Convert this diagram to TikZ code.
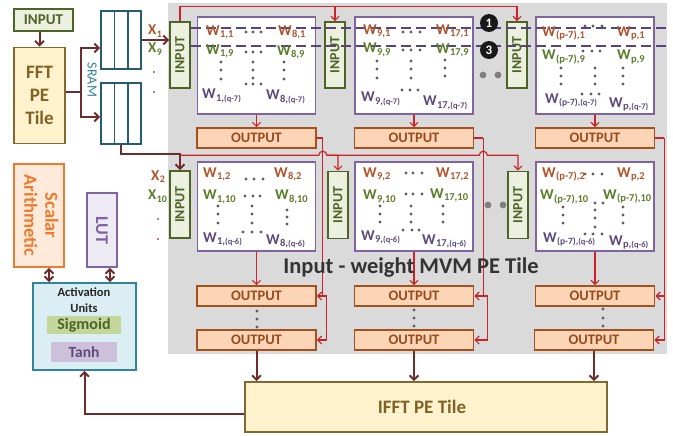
\documentclass[tikz,border=0pt]{standalone}
\usepackage{fontspec}
\setmainfont{Carlito}
\usepackage{graphicx}
\usetikzlibrary{arrows.meta}
\definecolor{cBrown}{HTML}{6E2C2C}
\definecolor{cRed}{HTML}{CC2229}
\definecolor{cBg}{HTML}{DADADA}
\definecolor{cInF}{HTML}{EBF1DE}
\definecolor{cInD}{HTML}{4F6228}
\definecolor{cOutF}{HTML}{FBD5B5}
\definecolor{cOutD}{HTML}{A4501F}
\definecolor{cOutT}{HTML}{9A4A1F}
\definecolor{cBlk}{HTML}{8064A2}
\definecolor{cWa}{HTML}{B0552B}
\definecolor{cWb}{HTML}{5E7D2B}
\definecolor{cWc}{HTML}{5C4A7D}
\definecolor{cFftF}{HTML}{FFF2CC}
\definecolor{cFftD}{HTML}{806A30}
\definecolor{cFftT}{HTML}{7F6326}
\definecolor{cSram}{HTML}{245E6E}
\definecolor{cSramT}{HTML}{31849B}
\definecolor{cScD}{HTML}{EE7A2E}
\definecolor{cScF}{HTML}{FDEADA}
\definecolor{cLutF}{HTML}{EEEAF4}
\definecolor{cLutT}{HTML}{7F64A2}
\definecolor{cActD}{HTML}{31849B}
\definecolor{cActF}{HTML}{DAEEF3}
\definecolor{cSig}{HTML}{C3D69B}
\definecolor{cTanh}{HTML}{CCC0DA}
\definecolor{cTanhT}{HTML}{5F497A}
\definecolor{cDot}{HTML}{5F5F5F}
\definecolor{cTitle}{HTML}{333333}
\definecolor{cDash}{HTML}{55457A}
\newcommand{\Wl}[1]{W\kern.3pt\raisebox{-2pt}{\fontsize{10.5}{10.5}\selectfont #1}}
\newcommand{\Wq}[2]{W\kern.3pt\raisebox{-2.5pt}{\fontsize{10.5}{10.5}\selectfont #1,\fontsize{8.5}{8.5}\selectfont #2}}
\newcommand{\Xl}[1]{X\kern.3pt\raisebox{-2.5pt}{\fontsize{10}{10}\selectfont #1}}
\tikzset{
  box/.style={rectangle, inner sep=0pt},
  inbox/.style={box, draw=cInD, fill=cInF, line width=1.6pt, text=cInD, font=\fontsize{14}{14}\selectfont\bfseries, minimum width=20pt, minimum height=66pt},
  outbox/.style={box, draw=cOutD, fill=cOutF, line width=1.6pt, text=cOutT, font=\fontsize{14.5}{14.5}\selectfont\bfseries, minimum width=119pt, minimum height=20pt},
  blk/.style={box, draw=cBlk, fill=white, line width=1.3pt, minimum width=118pt},
  sram/.style={box, draw=cSram, fill=white, line width=1.6pt, minimum width=40pt},
  sramln/.style={draw=cSram, line width=1.6pt},
  wl/.style={anchor=base west, inner sep=0pt, font=\fontsize{15}{15}\selectfont\bfseries},
  xl/.style={anchor=base west, inner sep=0pt, font=\fontsize{15}{15}\selectfont\bfseries},
  brn/.style={draw=cBrown, line width=2pt},
  brnA/.style={brn, -{Straight Barb[length=4.5pt,width=9pt]}},
  brnD/.style={brn, {Straight Barb[length=4.5pt,width=9pt]}-{Straight Barb[length=4.5pt,width=9pt]}},
  rd/.style={draw=cRed, line width=1.2pt},
  rdA/.style={rd, -{Straight Barb[length=4pt,width=8pt]}},
  pdash/.style={draw=cDash, line width=1.8pt, dash pattern=on 10pt off 5pt},
  numc/.style={circle, fill=black!90, text=white, inner sep=0pt, minimum size=18pt, font=\fontsize{13}{13}\selectfont\bfseries}
}
\begin{document}
\begin{tikzpicture}[x=1pt,y=-1pt]
\useasboundingbox (0,0) rectangle (673,436);
\fill[cBg] (168,3) rectangle (667,354);

% left column
\node[box, draw=cInD, fill=cInF, line width=1.6pt, text=cInD, font=\fontsize{15}{15}\selectfont\bfseries, minimum width=59pt, minimum height=22pt] (inp) at (43.5,20) {INPUT};
\node[box, draw=cFftD, fill=cFftF, line width=1.6pt, text=cFftT, font=\fontsize{19}{23}\selectfont\bfseries, align=center, minimum width=51pt, minimum height=96pt] (fft) at (39.5,95.5) {FFT\\PE\\Tile};
\node[sram, minimum height=58pt] (sramA) at (121,40) {};
\node[sram, minimum height=61pt] (sramB) at (121,113.5) {};
\foreach \s in {sramA,sramB}{
  \draw[sramln] ([xshift=-6.7pt]\s.north) -- ([xshift=-6.7pt]\s.south);
  \draw[sramln] ([xshift=6.7pt]\s.north) -- ([xshift=6.7pt]\s.south);
}
\node[text=cSramT, font=\fontsize{14}{14}\selectfont, inner sep=0pt] (sramlbl) at (92,80) {\rotatebox{-90}{SRAM}};

\node[box, draw=cScD, fill=cScF, line width=1.6pt, text=cScD, font=\fontsize{18.5}{21}\selectfont\bfseries, minimum width=50pt, minimum height=103pt] (scal) at (39,215.5) {\rotatebox{-90}{\begin{tabular}{@{}c@{}}Scalar\\Arithmetic\end{tabular}}};
\node[box, draw=cBlk, fill=cLutF, line width=1.6pt, text=cLutT, font=\fontsize{18}{18}\selectfont\bfseries, minimum width=30pt, minimum height=74pt] (lut) at (102,230) {\rotatebox{-90}{LUT}};
\node[box, draw=cActD, fill=cActF, line width=1.6pt, minimum width=103pt, minimum height=87pt] (act) at (84.5,326.5) {};
\node[align=center, font=\fontsize{12.5}{16}\selectfont\bfseries, text=black!85, inner sep=0pt] (actt) at (84,300) {Activation\\Units};
\node[box, fill=cSig, text=cInD, font=\fontsize{16}{16}\selectfont\bfseries, minimum width=74pt, minimum height=18pt] (sig) at (84,325) {Sigmoid};
\node[box, fill=cTanh, text=cTanhT, font=\fontsize{15.5}{15.5}\selectfont\bfseries, minimum width=66pt, minimum height=20pt] (tanh) at (84,352) {Tanh};

% INPUT boxes
\node[inbox] (in11) at (180,55) {\rotatebox{90}{INPUT}};
\node[inbox] (in12) at (335,55) {\rotatebox{90}{INPUT}};
\node[inbox] (in13) at (517,55) {\rotatebox{90}{INPUT}};
\node[inbox, minimum height=67pt] (in21) at (180,204.5) {\rotatebox{90}{INPUT}};
\node[inbox, minimum height=67pt] (in22) at (338,205) {\rotatebox{90}{INPUT}};
\node[inbox, minimum height=67pt] (in23) at (518,205) {\rotatebox{90}{INPUT}};

% weight blocks
\node[blk, minimum height=97pt] (b11) at (256.5,65.5) {};
\node[blk, minimum height=97pt] (b12) at (414,65.5) {};
\node[blk, minimum height=97pt] (b13) at (595,65.5) {};
\node[blk, minimum height=89pt] (b21) at (256.5,206.5) {};
\node[blk, minimum height=89pt] (b22) at (414,206.5) {};
\node[blk, minimum height=89pt] (b23) at (595,206.5) {};

% outputs
\node[outbox] (o11) at (256.5,138) {OUTPUT};
\node[outbox] (o12) at (414,138) {OUTPUT};
\node[outbox] (o13) at (595,138) {OUTPUT};
\node[outbox] (o31) at (256.5,296) {OUTPUT};
\node[outbox] (o32) at (414,296) {OUTPUT};
\node[outbox] (o33) at (595,296) {OUTPUT};
\node[outbox] (o41) at (256.5,340) {OUTPUT};
\node[outbox] (o42) at (414,340) {OUTPUT};
\node[outbox] (o43) at (594,340) {OUTPUT};

\node[box, draw=cFftD, fill=cFftF, line width=1.6pt, text=cFftT, font=\fontsize{19}{19}\selectfont\bfseries, minimum width=362pt, minimum height=50pt] (ifft) at (426,407) {\hspace*{-8pt}IFFT PE Tile\hspace*{0pt}};

% purple dashed lines
\draw[pdash] ([yshift=27pt]in11.east) -- ++(477,0);
\draw[pdash] ([yshift=9pt]in11.east) -- ++(477,0);
\node[numc] (n1) at (489,23) {1};
\node[numc] (n3) at (489,50) {3};

% big dots between columns
\foreach \x/\y in {483/75, 498/75, 488/205, 503/205} \fill[cDot!80] (\x,\y) circle (3.4);

% small dots in blocks
\foreach \x/\y in {246/32,253/32,261/32, 246/52,253/52,261/52, 221/62,221/70,221/79, 253/62,253/70,253/78, 246/84,253/84,261/84, 284/62,284/70,284/79,
  403/32,411/32,420/32, 403/50,411/50,420/50, 377/61,377/69,377/78, 411/61,411/69,411/78, 402/90,410/90,418/90, 445/60,445/68,445/76,
  585/26,593/26,602/26, 583/51,592/51,600/51, 561/68,561/76,561/84, 595/68,595/76,595/84, 582/94,591/94,599/94, 623/68,623/76,623/84,
  246/179,254/179,263/179, 245/196,253/196,260/196, 218/206,218/214,218/223, 252/206,252/214,252/223, 243/232,252/232,261/232, 287/210,287/217,287/224,
  406/173,413/173,422/173, 406/194,413/194,422/194, 380/206,380/214,380/222, 411/206,411/214,411/222, 403/230,412/230,419/230, 443/206,443/214,443/222,
  585/174,593/174,602/174, 595/203,603/203, 563/207,563/215,563/223, 595/210,595/218,595/227, 585/234,593/234,602/234, 623/207,623/215,623/223,
  257/311,257/319,257/327, 414/310,414/318,414/326, 603/309,603/318,603/326}
  \fill[cDot] (\x,\y) circle (1.6);
\foreach \x/\y in {154/72,154/92,158/219,158/239} \fill[cWa] (\x,\y) circle (1.2);

% weight labels
\node[wl, text=cWa] (w111) at (206,36) {\Wl{1,1}};
\node[wl, text=cWa] (w181) at (278,36) {\Wl{8,1}};
\node[wl, text=cWb] (w119) at (206,55) {\Wl{1,9}};
\node[wl, text=cWb] (w189) at (277,56) {\Wl{8,9}};
\node[wl, text=cWc] (w11q) at (202,99) {\Wq{1}{(q-7)}};
\node[wl, text=cWc] (w18q) at (266,100) {\Wq{8}{(q-7)}};

\node[wl, text=cWa] (w191) at (363,35) {\Wl{9,1}};
\node[wl, text=cWa] (w1171) at (436,35) {\Wl{17,1}};
\node[wl, text=cWb] (w199) at (363,53) {\Wl{9,9}};
\node[wl, text=cWb] (w1179) at (436,54) {\Wl{17,9}};
\node[wl, text=cWc] (w19q) at (361,102) {\Wq{9}{(q-7)}};
\node[wl, text=cWc] (w117q) at (423,106) {\Wq{17}{(q-7)}};

\node[wl, text=cWa] (w1p71) at (542,37) {\Wl{(p-7),1}};
\node[wl, text=cWa] (w1p1) at (617,37) {\Wl{p,1}};
\node[wl, text=cWb] (w1p79) at (542,60) {\Wl{(p-7),9}};
\node[wl, text=cWb] (w1p9) at (617,60) {\Wl{p,9}};
\node[wl, text=cWc] (w1p7q) at (545,103) {\Wq{\fontsize{9.5}{9.5}\selectfont(p-7)}{(q-7)}};
\node[wl, text=cWc] (w1pq) at (609,107) {\Wq{p}{(q-7)}};

\node[wl, text=cWa] (w212) at (203,177) {\Wl{1,2}};
\node[wl, text=cWa] (w282) at (274,177) {\Wl{8,2}};
\node[wl, text=cWb] (w2110) at (203,200) {\Wl{1,10}};
\node[wl, text=cWb] (w2810) at (275,200) {\Wl{8,10}};
\node[wl, text=cWc] (w21q) at (203,242) {\Wq{1}{(q-6)}};
\node[wl, text=cWc] (w28q) at (266,244) {\Wq{8}{(q-6)}};

\node[wl, text=cWa] (w292) at (363,177) {\Wl{9,2}};
\node[wl, text=cWa] (w2172) at (436,177) {\Wl{17,2}};
\node[wl, text=cWb] (w2910) at (363,200) {\Wl{9,10}};
\node[wl, text=cWb] (w21710) at (430,198) {\Wl{17,10}};
\node[wl, text=cWc] (w29q) at (361,240) {\Wq{9}{(q-6)}};
\node[wl, text=cWc] (w217q) at (422,244) {\Wq{17}{(q-6)}};

\node[wl, text=cWa] (w2p72) at (542,177) {\Wl{(p-7),2}};
\node[wl, text=cWa] (w2p2) at (617,177) {\Wl{p,2}};
\node[wl, text=cWb] (w2p710) at (540,200) {\Wl{(p-7),10}};
\node[wl, text=cWb] (w2p710b) at (603,199) {\Wl{(p-7),10}};
\node[wl, text=cWc] (w2p7q) at (543,242) {\Wq{\fontsize{9.5}{9.5}\selectfont(p-7)}{(q-6)}};
\node[wl, text=cWc] (w2pq) at (609,245) {\Wq{p}{(q-6)}};

% X labels
\node[xl, text=cWa] (x1) at (148,35) {\Xl{1}};
\node[xl, text=cWb] (x9) at (148,53) {\Xl{9}};
\node[xl, text=cWa] (x2) at (151,180) {\Xl{2}};
\node[xl, text=cWb] (x10) at (148,200) {\Xl{10}};

% brown connectors
\coordinate (split) at (81,92);
\draw[brnA] (inp.south -| fft.north) -- (fft.north);
\draw[brn] (fft.east |- split) -- (split);
\draw[brnA] (split) |- ([yshift=-8pt]sramA.west);
\draw[brnA] (split) |- ([yshift=-3.5pt]sramB.west);
\draw[brnA] (sramA.east) -- (sramA.east -| in11.west);

% red connectors row 1
\draw[rdA] (in11.north) -- ++(0,-15) -| (in12.north);
\draw[rdA] ([yshift=15pt]in11.north) -| (in13.north);

% block -> output
\draw[rdA] (b11.south) -- (o11.north);
\draw[rdA] (b12.south) -- (o12.north);
\draw[rdA] (b13.south) -- (o13.north);
\draw[rdA] (b21.south) -- (o31.north);
\draw[rdA] (b22.south) -- (o32.north);
\draw[rdA] (b23.south) -- (o33.north);

% output wires
\coordinate (v1) at ([xshift=6pt]o11.east);
\coordinate (v2) at ([xshift=9pt]o12.east);
\coordinate (v3) at ([xshift=9pt]o13.east);
\draw[rd] (o11.east) -- (v1);
\draw[rd] (o12.east) -- (v2);
\draw[rd] (o13.east) -- (v3);
\draw[rdA] (v1) |- (o31.east);
\draw[rdA] (v1 |- o31.east) -- ++(4,0) |- (o41.east);
\draw[rdA] (v2) |- (o32.east);
\draw[rdA] (v2 |- o32.east) -- ++(4,0) |- (o42.east);
\draw[rdA] (v3) |- (o33.east);
\draw[rdA] (v3 |- o33.east) |- (o43.east);

% red connectors row 2 with hops
\coordinate (h2) at ([yshift=15pt]in21.north);
\draw[rdA] (h2) -- ([xshift=-4pt]v1 |- h2) arc[start angle=180, end angle=0, radius=4pt] -| (in22.north);
\draw[rdA] ([xshift=4pt]v1 |- h2) -- ([xshift=-4pt]v2 |- h2) arc[start angle=180, end angle=0, radius=4pt] -| (in23.north);

\draw[brnA] (sramB.south) -- ++(0,9) -| (in21.north);

% to IFFT
\draw[brnA] (o41.south) -- (o41.south |- ifft.north);
\draw[brnA] (o42.south) -- (o42.south |- ifft.north);
\draw[brnA] (o43.south) -- (o43.south |- ifft.north);
\draw[brnA] ([yshift=-7pt]ifft.west) -| (act.south);

% double arrows
\coordinate (sA) at (49,0);
\coordinate (sB) at (110,0);
\draw[brnD] (scal.south -| sA) -- (act.north -| sA);
\draw[brnD] (lut.south -| sB) -- (act.north -| sB);

\node[font=\fontsize{22.5}{22.5}\selectfont\bfseries, text=cTitle, inner sep=0pt] (ttl) at (411,268) {Input - weight MVM PE Tile};
\end{tikzpicture}
\end{document}
